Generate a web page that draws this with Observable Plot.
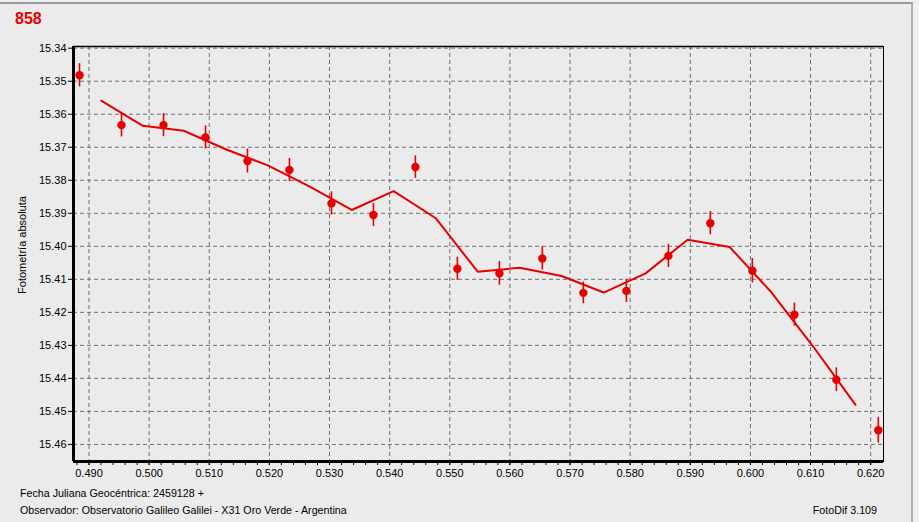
<!DOCTYPE html>
<html>
<head>
<meta charset="utf-8">
<script src="https://cdn.jsdelivr.net/npm/d3@7"></script>
<script src="https://cdn.jsdelivr.net/npm/@observablehq/plot@0.6"></script>
<style>
  html, body { margin: 0; padding: 0; background: #f0f0f0; }
  #wrap { position: relative; width: 919px; height: 522px; background: #f0f0f0; overflow: hidden; }
  #panel { position: absolute; left: 0; top: 2px; width: 911px; height: 520px; background: #ebebeb;
           border-top: 2px solid #9a9a9a; border-right: 2px solid #b0b0b0; }
  #chart { position: absolute; left: 0; top: 0; }
  .txt { position: absolute; font-family: "Liberation Sans", Arial, sans-serif; color: #000; white-space: nowrap; }
  #title { left: 15px; top: 10px; font-size: 16px; font-weight: bold; color: #e80000; }
  #ylabel { left: 22px; top: 245px; font-size: 11px; transform: translate(-50%, -50%) rotate(-90deg); }
  #foot1 { left: 20px; top: 487px; font-size: 10.7px; }
  #foot2 { left: 20px; top: 504px; font-size: 10.7px; }
  #foot3 { right: 42px; top: 504px; font-size: 10.7px; }
</style>
</head>
<body>
<div id="wrap">
  <div id="panel"></div>
  <div id="chart"></div>
  <div class="txt" id="title">858</div>
  <div class="txt" id="ylabel">Fotometría absoluta</div>
  <div class="txt" id="foot1">Fecha Juliana Geocéntrica: 2459128 +</div>
  <div class="txt" id="foot2">Observador: Observatorio Galileo Galilei - X31 Oro Verde - Argentina</div>
  <div class="txt" id="foot3">FotoDif 3.109</div>
</div>
<script>
// Observations (JD fraction, magnitude, error)
const obsX = [0.48842, 0.49540, 0.50239, 0.50937, 0.51635, 0.52333, 0.53032, 0.53730, 0.54428, 0.55126,
              0.55825, 0.56539, 0.57221, 0.57937, 0.58636, 0.59333, 0.60032, 0.60731, 0.61429, 0.62127];
const obsMag = [15.3482, 15.3633, 15.3633, 15.3670, 15.3742, 15.3769, 15.3870, 15.3905, 15.3760, 15.4068,
                15.4082, 15.4037, 15.4141, 15.4135, 15.4029, 15.3930, 15.4074, 15.4207, 15.4404, 15.4557];
const obsErr = [0.0035, 0.0036, 0.0035, 0.0035, 0.0036, 0.0035, 0.0035, 0.0035, 0.0034, 0.0035,
                0.0036, 0.0035, 0.0033, 0.0035, 0.0035, 0.0035, 0.0037, 0.0035, 0.0036, 0.0039];

// Smoothed curve vertices
const curveX = [0.49203, 0.49895, 0.50576, 0.51274, 0.51973, 0.52671, 0.53369, 0.54067, 0.54766, 0.55464,
                0.56162, 0.56860, 0.57559, 0.58257, 0.58955, 0.59654, 0.60352, 0.61050, 0.61748];
const curveMag = [15.3559, 15.3635, 15.3650, 15.3706, 15.3755, 15.3819, 15.3890, 15.3833, 15.3915, 15.4077,
                  15.4065, 15.4090, 15.4140, 15.4082, 15.3980, 15.4002, 15.4140, 15.4305, 15.4480];

// Axes
const xDomain = [0.48742, 0.62213];
const yDomain = [15.33949, 15.46517];
const xTicks = [0.49, 0.50, 0.51, 0.52, 0.53, 0.54, 0.55, 0.56, 0.57, 0.58, 0.59, 0.60, 0.61, 0.62];
const xMinorTicks = d3.range(0, 67).map(i => +(0.488 + i * 0.002).toFixed(3)).filter(v => v <= 0.622);
const yTicks = [15.34, 15.35, 15.36, 15.37, 15.38, 15.39, 15.40, 15.41, 15.42, 15.43, 15.44, 15.45, 15.46];

const RED = "#e60000";

const obs = obsX.map((x, i) => ({x, y: obsMag[i], e: obsErr[i]}));
const curve = curveX.map((x, i) => ({x, y: curveMag[i]}));

const chart = Plot.plot({
  width: 919,
  height: 490,
  marginLeft: 73,
  marginRight: 36,
  marginTop: 46,
  marginBottom: 29,
  style: {fontFamily: "'Liberation Sans', Arial, sans-serif", fontSize: "11px", background: "transparent", color: "#000"},
  x: {domain: xDomain, label: null},
  y: {domain: yDomain, reverse: true, label: null},
  marks: [
    Plot.gridX(xTicks, {stroke: "#6f6f6f", strokeOpacity: 1, strokeDasharray: "4,3"}),
    Plot.gridY(yTicks, {stroke: "#6f6f6f", strokeOpacity: 1, strokeDasharray: "4,3"}),
    Plot.axisX(xMinorTicks, {tickSize: 4, tickFormat: () => "", stroke: "#000"}),
    Plot.axisX(xTicks, {tickSize: 4, tickPadding: 4, tickFormat: d3.format(".3f"), fontSize: 11}),
    Plot.axisY(yTicks, {tickSize: 5, tickPadding: 2, tickFormat: d3.format(".2f"), fontSize: 11}),
    Plot.line(curve, {x: "x", y: "y", stroke: RED, strokeWidth: 2}),
    Plot.ruleX(obs, {x: "x", y1: d => d.y - d.e, y2: d => d.y + d.e, stroke: RED, strokeWidth: 1.6}),
    Plot.dot(obs, {x: "x", y: "y", r: 4.2, fill: RED, stroke: null}),
    Plot.frame({stroke: "#000", strokeWidth: 1}),
    Plot.ruleX([xDomain[0]], {stroke: "#000", strokeWidth: 3}),
    Plot.ruleY([yDomain[1]], {stroke: "#000", strokeWidth: 3}),
    Plot.ruleY([yDomain[0]], {stroke: "#000", strokeWidth: 1.5})
  ]
});
document.getElementById("chart").appendChild(chart);
</script>
</body>
</html>
